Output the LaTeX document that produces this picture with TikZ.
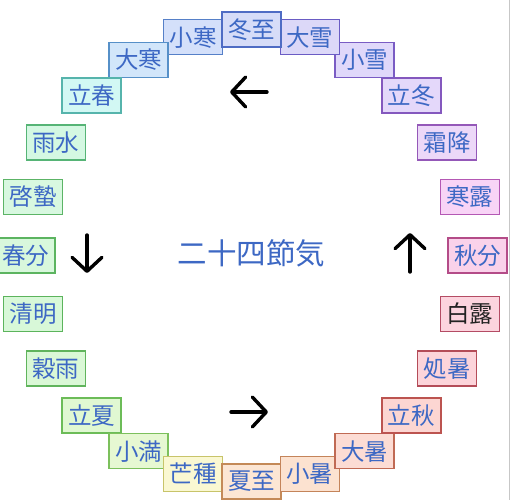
\documentclass[tikz,border=0pt]{standalone}
\usepackage{fontspec}
\setmainfont{Noto Sans CJK JP}
\usetikzlibrary{arrows.meta,calc}
\definecolor{txtblue}{HTML}{3D68C4}
\begin{document}
\begin{tikzpicture}[x=1pt,y=-1pt,
  term/.style={draw, line width=1.4pt, minimum width=59pt, minimum height=35pt,
    inner sep=0pt, font=\fontsize{23.5}{23.5}\selectfont, text=txtblue},
  dirarrow/.style={line width=3.4pt, line cap=round,
    -{Straight Barb[length=14pt,width=30pt,round]}},
  title/.style={font=\fontsize{29.5}{29.5}\selectfont, text=txtblue}]
\useasboundingbox (0,0) rectangle (512,500);
\fill[white] (0,0) rectangle (512,500);
\draw[black!22, line width=1.5pt] (509.5,0) -- (509.5,500);
\coordinate (c) at (251.5,255.5);
\foreach \i/\ang/\txt/\fc/\bc/\tc in {
  24/105/小寒/D4E0FA/5680C8/3D68C4,
  23/120/大寒/D2E6FA/5690C8/3D68C4,
  22/135/立春/D2F8F4/56B4AC/3D68C4,
  21/150/雨水/D4F8E2/56B476/3D68C4,
  20/165/啓蟄/D8F8E0/5CB466/3D68C4,
  19/180/春分/D8F8DC/5CB460/3D68C4,
  18/-165/清明/D8F8D8/5CB45C/3D68C4,
  17/-150/穀雨/DAF8D6/60B45C/3D68C4,
  16/-135/立夏/E0F8D2/6CBC58/3D68C4,
  15/-120/小満/E6F8D2/7CC05C/3D68C4,
  14/-105/芒種/FAF8D2/C8C46A/3D68C4,
  13/-90/夏至/FCE6D4/C48A58/3D68C4,
  12/-75/小暑/FCE2D0/C4845A/3D68C4,
  11/-60/大暑/FCDCD4/C06A54/3D68C4,
  10/-45/立秋/FCD6D2/BC5450/3D68C4,
  9/-30/処暑/FCD4DA/B44C58/3D68C4,
  8/-15/白露/FCD4DE/B44C64/222222,
  7/0/秋分/FAD2EA/B44C88/3D68C4,
  6/15/寒露/F8D4F6/B458B4/3D68C4,
  5/30/霜降/ECD8F8/9458B8/3D68C4,
  4/45/立冬/E4D8FA/8458BE/3D68C4,
  3/60/小雪/E0D8FA/7A5CC4/3D68C4,
  2/75/大雪/DCD8F8/6A5CC4/3D68C4,
  1/90/冬至/D6DCF8/4F6CC4/3D68C4}{
  \definecolor{fcol}{HTML}{\fc}
  \definecolor{bcol}{HTML}{\bc}
  \definecolor{tcol}{HTML}{\tc}
  \node[term, fill=fcol, draw=bcol, text=tcol] (n\i)
    at ($(c)+({226*cos(\ang)},{-226*sin(\ang)})$) {\txt};
}
\node[title] (t) at (251.5,253) {二十四節気};
\coordinate (la) at (267,92);  \coordinate (lb) at (230,92);
\coordinate (ra) at (231,412); \coordinate (rb) at (268,412);
\coordinate (ua) at (410,272); \coordinate (ub) at (410,233);
\coordinate (da) at (87,235);  \coordinate (db) at (87,273);
\draw[dirarrow] (la) -- (lb);
\draw[dirarrow] (ra) -- (rb);
\draw[dirarrow] (ua) -- (ub);
\draw[dirarrow] (da) -- (db);
\end{tikzpicture}
\end{document}
